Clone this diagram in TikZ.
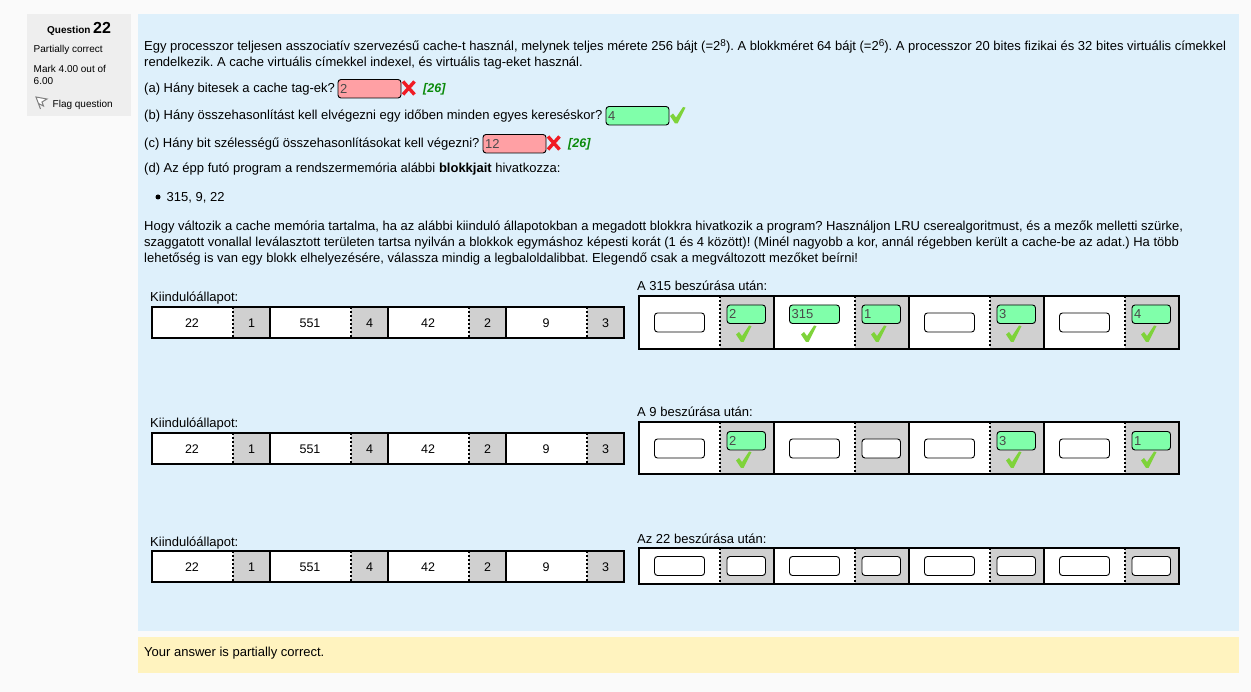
\documentclass[tikz,border=0pt]{standalone}
\usepackage{fontspec}
\setmainfont{Liberation Sans}
\frenchspacing
\definecolor{pagebg}{HTML}{FAFAFA}
\definecolor{infobg}{HTML}{EEEEEE}
\definecolor{quesbg}{HTML}{DEF0FB}
\definecolor{outbg}{HTML}{FFF3BF}
\definecolor{agebg}{HTML}{D0D0D0}
\definecolor{badbg}{HTML}{FFA0A4}
\definecolor{okbg}{HTML}{80FFAA}
\definecolor{typed}{HTML}{4A4A4A}
\definecolor{tickcol}{HTML}{7ED33A}
\definecolor{crosscol}{HTML}{F01C24}
\definecolor{markcol}{HTML}{0A8A0A}
\def\upnum#1{\raisebox{4.5pt}{\fontsize{10}{10}\selectfont #1}}
\tikzset{
    txt/.style={inner sep=0pt, anchor=base west, font=\fontsize{13}{15}\selectfont},
    small/.style={txt, font=\fontsize{10}{12}\selectfont},
    val/.style={inner sep=0pt, font=\fontsize{12.5}{14}\selectfont},
    field/.style={draw=black, line width=0.9pt, rounded corners=3pt, fill=white},
    typedtxt/.style={inner sep=0pt, anchor=base west, text=typed, font=\fontsize{13}{15}\selectfont},
    marktxt/.style={txt, text=markcol, font=\fontsize{12.5}{14}\bfseries\itshape},
    frame/.style={draw=black, line width=2.6pt},
    divider/.style={draw=black, line width=2pt},
    dots/.style={draw=black, line width=2pt, dash pattern=on 2pt off 2pt}
}
\begin{document}
\begin{tikzpicture}[x=1pt,y=-1pt]
    % a tick and a cross, #1 is the top left corner
    \def\tick#1{
        \fill[tickcol,shift={#1}] (0,9) -- (3,6.5) -- (6,10.5) -- (13,0) -- (15.5,0.6) -- (7.5,16.5) -- (5,16.5) -- cycle;
    }
    \def\cross#1{
        \draw[crosscol,line width=3.4pt,shift={#1}] (1,1) -- (12.5,14) (12.5,1) -- (1,14);
    }
    % an answer field: #1 left, #2 top, #3 width, #4 fill, #5 typed text
    \def\answer#1#2#3#4#5{
        \draw[field,fill=#4] (#1,#2) rectangle ++(#3,18.5);
        \node[typedtxt] at (#1+2,#2+14) {#5};
    }
    % the row on the left: #1 top
    \def\startrow#1{
        \fill[white] (152,#1) rectangle (624,#1+31);
        \foreach \n/\tagv/\agev in {0/22/1,1/551/4,2/42/2,3/9/3} {
            \fill[agebg] (233+118*\n,#1) rectangle (270+118*\n,#1+31);
            \draw[dots] (233+118*\n,#1) -- (233+118*\n,#1+31);
            \node[val] at (192+118*\n,#1+16) {\tagv};
            \node[val] at (251.5+118*\n,#1+16) {\agev};
        }
        \foreach \n in {1,2,3} {
            \draw[divider] (152+118*\n,#1) -- (152+118*\n,#1+31);
        }
        \draw[frame] (152,#1) rectangle (624,#1+31);
    }
    % the row on the right: #1 top, #2 height
    \def\afterrow#1#2{
        \fill[white] (639,#1) rectangle (1179,#1+#2);
        \foreach \n in {0,1,2,3} {
            \fill[agebg] (720+135*\n,#1) rectangle (774+135*\n,#1+#2);
            \draw[dots] (720+135*\n,#1) -- (720+135*\n,#1+#2);
        }
        \foreach \n in {1,2,3} {
            \draw[divider] (639+135*\n,#1) -- (639+135*\n,#1+#2);
        }
        \draw[frame] (639,#1) rectangle (1179,#1+#2);
    }

    \useasboundingbox (0,0) rectangle (1251,692);
    \fill[pagebg] (0,0) rectangle (1251,692);
    \fill[infobg] (27,14) rectangle (131,116);
    \fill[quesbg] (138,14) rectangle (1239,631);
    \fill[outbg] (138,637) rectangle (1239,673);

    % The info box
    \node[txt,font=\fontsize{10}{12}\bfseries] (qlabel) at (47,33.5) {Question};
    \node[txt,font=\fontsize{16}{18}\bfseries] (qnum) at (93,33.5) {22};
    \node[small] (state) at (33.5,52.5) {Partially correct};
    \node[small] (mark1) at (33.5,72.5) {Mark 4.00 out of};
    \node[small] (mark2) at (33.5,84.5) {6.00};
    \draw[gray,line width=1pt,fill=white] (40.5,109) -- (36,97) -- (47,99) -- (42,102) -- (43.5,106) -- (38.5,103.5);
    \node[small] (flag) at (52.5,107.5) {Flag question};

    % The question text
    \node[txt] (l1) at (144,51) {Egy processzor teljesen asszociatív szervezésű cache-t használ, melynek teljes mérete 256 bájt (=2\upnum{8}). A blokkméret 64 bájt (=2\upnum{6}). A processzor 20 bites fizikai és 32 bites virtuális címekkel};
    \node[txt] (l2) at (144,67) {rendelkezik. A cache virtuális címekkel indexel, és virtuális tag-eket használ.};
    \node[txt] (qa) at (144,93) {(a) Hány bitesek a cache tag-ek?};
    \node[txt] (qb) at (144,120) {(b) Hány összehasonlítást kell elvégezni egy időben minden egyes kereséskor?};
    \node[txt] (qc) at (144,148) {(c) Hány bit szélességű összehasonlításokat kell végezni?};
    \node[txt] (qd) at (144,173) {(d) Az épp futó program a rendszermemória alábbi \textbf{blokkjait} hivatkozza:};
    \fill (158,197) circle (2.5);
    \node[txt] (blocks) at (166.5,201.5) {315, 9, 22};
    \node[txt] (p1) at (144,231) {Hogy változik a cache memória tartalma, ha az alábbi kiinduló állapotokban a megadott blokkra hivatkozik a program? Használjon LRU cserealgoritmust, és a mezők melletti szürke,};
    \node[txt] (p2) at (144,247) {szaggatott vonallal leválasztott területen tartsa nyilván a blokkok egymáshoz képesti korát (1 és 4 között)! (Minél nagyobb a kor, annál régebben került a cache-be az adat.) Ha több};
    \node[txt] (p3) at (144,263) {lehetőség is van egy blokk elhelyezésére, válassza mindig a legbaloldalibbat. Elegendő csak a megváltozott mezőket beírni!};

    % The answers in the text
    \answer{338}{79.5}{63}{badbg}{2}
    \cross{(402,80.5)}
    \node[marktxt] (ma) at (423,92.5) {[26]};
    \answer{606}{106.5}{63}{okbg}{4}
    \tick{(670,107)}
    \answer{483}{134.5}{63}{badbg}{12}
    \cross{(547,135.5)}
    \node[marktxt] (mc) at (568,147.5) {[26]};

    % The rows
    \node[txt] (s1) at (150,302) {Kiindulóállapot:};
    \node[txt] (s2) at (150,428) {Kiindulóállapot:};
    \node[txt] (s3) at (150,546) {Kiindulóállapot:};
    \startrow{307}
    \startrow{433}
    \startrow{551}

    \node[txt] (a1) at (637,291) {A 315 beszúrása után:};
    \node[txt] (a2) at (637,417) {A 9 beszúrása után:};
    \node[txt] (a3) at (637,543) {Az 22 beszúrása után:};
    \afterrow{296}{53}
    \afterrow{422}{52}
    \afterrow{548}{36}

    % First row on the right
    \foreach \n in {0,2,3} {
        \draw[field] (654.5+135*\n,313) rectangle ++(50,19);
    }
    \answer{789.5}{305}{50}{okbg}{315}
    \tick{(801,325.5)}
    \foreach \n/\agev in {0/2,1/1,2/3,3/4} {
        \answer{727+135*\n}{305}{38.5}{okbg}{\agev}
        \tick{(736+135*\n,325.5)}
    }

    % Second row on the right
    \foreach \n in {0,1,2,3} {
        \draw[field] (654.5+135*\n,439) rectangle ++(50,19);
    }
    \draw[field] (862,439) rectangle ++(38.5,19);
    \foreach \n/\agev in {0/2,2/3,3/1} {
        \answer{727+135*\n}{431.5}{38.5}{okbg}{\agev}
        \tick{(736+135*\n,451.5)}
    }

    % Third row on the right
    \foreach \n in {0,1,2,3} {
        \draw[field] (654.5+135*\n,556.5) rectangle ++(50,19);
        \draw[field] (727+135*\n,556.5) rectangle ++(38.5,19);
    }

    \node[txt] (result) at (144,656) {Your answer is partially correct.};
\end{tikzpicture}
\end{document}
